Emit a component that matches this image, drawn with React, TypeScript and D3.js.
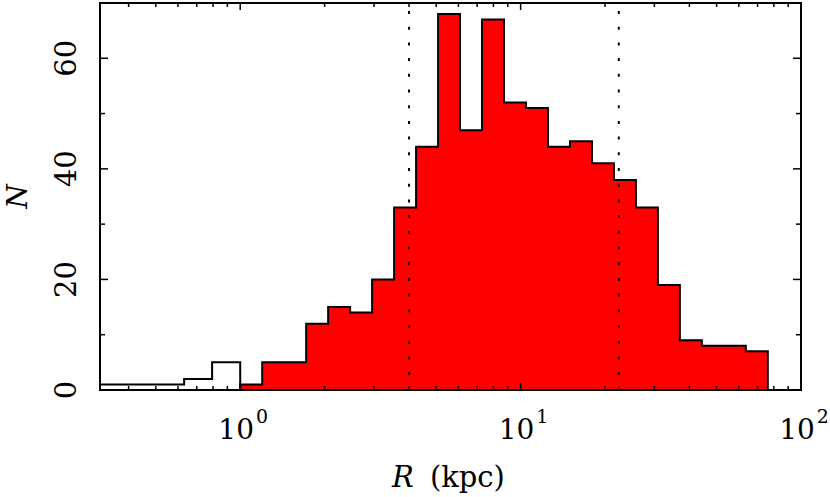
import React, { useEffect, useRef } from 'react';
import * as d3 from 'd3';

// bin edges (kpc) and counts
const redEdges = [
  1.0, 1.198, 1.435, 1.719, 2.059, 2.466, 2.954, 3.539, 4.239, 5.078, 6.081, 7.286,
  8.726, 10.45, 12.52, 15.0, 17.97, 21.52, 25.78, 30.88, 36.98, 44.3, 53.07, 63.56, 76.14,
];
const redCounts = [1, 5, 5, 12, 15, 14, 20, 33, 44, 68, 47, 67, 52, 51, 44, 45, 41, 38, 33, 19, 9, 8, 8, 7];

const whiteEdges = [0.316, 0.398, 0.501, 0.631, 0.794, 1.0];
const whiteCounts = [1, 1, 1, 2, 5];

const markerLines = [4.0, 22.4];

const yMajor = [0, 20, 40, 60];
const yMinor = [10, 30, 50];
const xLabels = [
  { value: 1, exp: '0' },
  { value: 10, exp: '1' },
  { value: 100, exp: '2' },
];

const W = 830;
const H = 497;
const FONT = '"DejaVu Serif", "Liberation Serif", serif';

const stepPoints = (edges: number[], counts: number[]) => {
  const pts: [number, number][] = [[edges[0], 0]];
  counts.forEach((c, i) => {
    pts.push([edges[i], c]);
    pts.push([edges[i + 1], c]);
  });
  pts.push([edges[edges.length - 1], 0]);
  return pts;
};

const Histogram = () => {
  const ref = useRef<SVGSVGElement>(null);

  useEffect(() => {
    const svg = d3.select(ref.current);
    svg.selectAll('*').remove();

    const left = 100;
    const right = 801;
    const top = 3;
    const bottom = 390;

    const x = d3.scaleLog().domain([Math.pow(10, -0.5), 100]).range([left, right]);
    const y = d3.scaleLinear().domain([0, 70]).range([bottom, top]);

    svg.append('defs')
      .append('clipPath')
      .attr('id', 'plotclip')
      .append('rect')
      .attr('x', left)
      .attr('y', top)
      .attr('width', right - left)
      .attr('height', bottom - top);

    const g = svg.append('g').attr('clip-path', 'url(#plotclip)');

    const redPts = stepPoints(redEdges, redCounts);
    const area = d3
      .area<[number, number]>()
      .x((d) => x(d[0]))
      .y0(y(0))
      .y1((d) => y(d[1]));
    const line = d3
      .line<[number, number]>()
      .x((d) => x(d[0]))
      .y((d) => y(d[1]));

    g.append('path').attr('d', area(redPts)).attr('fill', '#ff0000');
    g.append('path')
      .attr('d', line(redPts))
      .attr('fill', 'none')
      .attr('stroke', '#000')
      .attr('stroke-width', 2);

    const whitePts = stepPoints(whiteEdges, whiteCounts);
    g.append('path')
      .attr('d', line(whitePts))
      .attr('fill', 'none')
      .attr('stroke', '#000')
      .attr('stroke-width', 2);

    g.selectAll('line.marker')
      .data(markerLines)
      .enter()
      .append('line')
      .attr('class', 'marker')
      .attr('x1', (d) => x(d))
      .attr('x2', (d) => x(d))
      .attr('y1', top + 8)
      .attr('y2', bottom)
      .attr('stroke', '#000')
      .attr('stroke-width', 2)
      .attr('stroke-dasharray', '3,12.7');

    // ticks
    const ticks = svg.append('g').attr('stroke', '#000').attr('stroke-width', 1.5);
    x.ticks().forEach((t) => {
      if (t <= x.domain()[0] || t >= 100) return;
      const major = Math.abs(Math.log10(t) - Math.round(Math.log10(t))) < 1e-6;
      const len = major ? 7 : 4;
      const px = x(t);
      ticks.append('line').attr('x1', px).attr('x2', px).attr('y1', bottom).attr('y2', bottom - len);
      ticks.append('line').attr('x1', px).attr('x2', px).attr('y1', top).attr('y2', top + len);
    });
    yMajor.concat(yMinor).forEach((v) => {
      if (v === 0) return;
      const len = yMajor.includes(v) ? 8 : 5;
      const py = y(v);
      ticks.append('line').attr('x1', left).attr('x2', left + len).attr('y1', py).attr('y2', py);
      ticks.append('line').attr('x1', right).attr('x2', right - len).attr('y1', py).attr('y2', py);
    });

    svg.append('rect')
      .attr('x', left)
      .attr('y', top)
      .attr('width', right - left)
      .attr('height', bottom - top)
      .attr('fill', 'none')
      .attr('stroke', '#000')
      .attr('stroke-width', 2);

    // y tick labels (rotated)
    svg.selectAll('text.ylab')
      .data(yMajor)
      .enter()
      .append('text')
      .attr('class', 'ylab')
      .attr('transform', (d) => `translate(76,${y(d)}) rotate(-90)`)
      .attr('text-anchor', 'middle')
      .attr('font-family', FONT)
      .attr('font-size', 29)
      .text((d) => d);

    // x tick labels
    const xl = svg.selectAll('text.xlab')
      .data(xLabels)
      .enter()
      .append('text')
      .attr('class', 'xlab')
      .attr('x', (d) => x(d.value) + 3)
      .attr('y', 439)
      .attr('text-anchor', 'middle')
      .attr('font-family', FONT)
      .attr('font-size', 28);
    xl.append('tspan').text('10');
    xl.append('tspan')
      .attr('dy', -16)
      .attr('dx', 2)
      .attr('font-size', 19)
      .text((d) => d.exp);

    // axis titles
    const xt = svg.append('text')
      .attr('x', (left + right) / 2 - 2)
      .attr('y', 487)
      .attr('text-anchor', 'middle')
      .attr('font-family', FONT)
      .attr('font-size', 29);
    xt.append('tspan').attr('font-style', 'italic').text('R');
    xt.append('tspan').attr('dx', 16).text('(kpc)');

    svg.append('text')
      .attr('transform', `translate(27,${(top + bottom) / 2}) rotate(-90)`)
      .attr('text-anchor', 'middle')
      .attr('font-family', FONT)
      .attr('font-style', 'italic')
      .attr('font-size', 28)
      .text('N');
  }, []);

  return (
    <svg
      ref={ref}
      width={W}
      height={H}
      style={{ position: 'absolute', left: 0, top: 0, background: '#fff' }}
    />
  );
};

export default function App() {
  return <Histogram />;
}
